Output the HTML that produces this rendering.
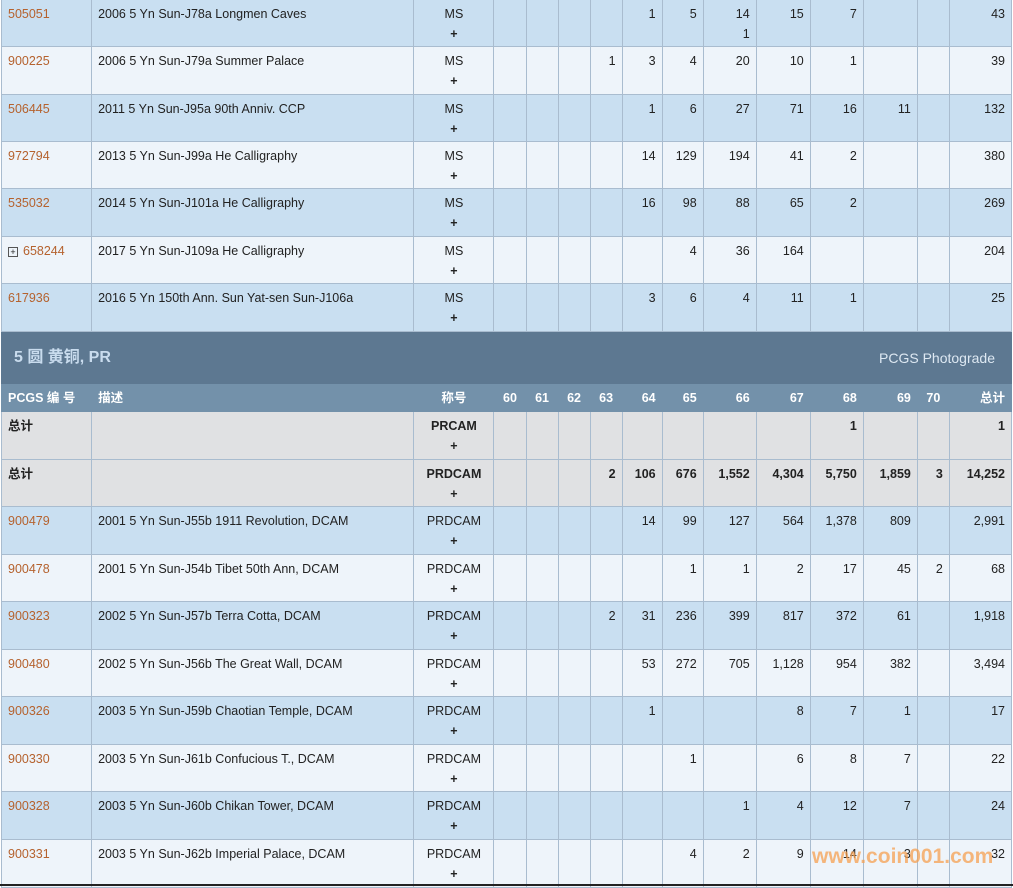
<!DOCTYPE html>
<html><head><meta charset="utf-8"><style>
body{margin:0;width:1013px;height:886px;overflow:hidden;background:#fff;font-family:"Liberation Sans","Noto Sans CJK SC",sans-serif;font-size:12.5px;color:#222}
table{position:absolute;left:1px;top:-1px;border-collapse:collapse;table-layout:fixed;width:1011px}
td{border:1px solid #a9bccf;vertical-align:top;padding:4px 6px 0 6px;line-height:20px;white-space:nowrap;overflow:hidden}
tr.b td{background:#c9dff1}
tr.w td{background:#eef4fa}
tr.g td{background:#e0e1e3;font-weight:bold}
td.n{text-align:right}
td.c{text-align:center}
a{color:#b5622e;text-decoration:none}
tr.band td{background:#5d7891;border-color:#5d7891;color:#c9dcee;font-size:16px;font-weight:bold;vertical-align:middle;padding:0 12px}
tr.band span{float:right;font-weight:normal;font-size:14px;color:#dde8f2;padding-right:4px}
tr.hd td{background:#7391aa;color:#fff;font-weight:bold;vertical-align:middle;padding:0 6px;border-color:#7391aa}
.pl{display:inline-block;width:8px;height:8px;border:1px solid #555;font-size:9px;line-height:8px;text-align:center;margin-right:5px;vertical-align:0}
</style></head><body>
<table>
<colgroup><col style="width:90px"><col style="width:322px"><col style="width:80px"><col style="width:32px"><col style="width:32px"><col style="width:32px"><col style="width:32px"><col style="width:40px"><col style="width:41px"><col style="width:53px"><col style="width:54px"><col style="width:53px"><col style="width:54px"><col style="width:32px"><col style="width:62px"></colgroup>
<tr class="b" style="height:47px"><td><a>505051</a></td><td>2006 5 Yn Sun-J78a Longmen Caves</td><td class="c">MS<br><b>+</b></td><td></td><td></td><td></td><td></td><td class="n">1</td><td class="n">5</td><td class="n">14<br>1</td><td class="n">15</td><td class="n">7</td><td></td><td></td><td class="n">43</td></tr>
<tr class="w" style="height:48px"><td><a>900225</a></td><td>2006 5 Yn Sun-J79a Summer Palace</td><td class="c">MS<br><b>+</b></td><td></td><td></td><td></td><td class="n">1</td><td class="n">3</td><td class="n">4</td><td class="n">20</td><td class="n">10</td><td class="n">1</td><td></td><td></td><td class="n">39</td></tr>
<tr class="b" style="height:47px"><td><a>506445</a></td><td>2011 5 Yn Sun-J95a 90th Anniv. CCP</td><td class="c">MS<br><b>+</b></td><td></td><td></td><td></td><td></td><td class="n">1</td><td class="n">6</td><td class="n">27</td><td class="n">71</td><td class="n">16</td><td class="n">11</td><td></td><td class="n">132</td></tr>
<tr class="w" style="height:47px"><td><a>972794</a></td><td>2013 5 Yn Sun-J99a He Calligraphy</td><td class="c">MS<br><b>+</b></td><td></td><td></td><td></td><td></td><td class="n">14</td><td class="n">129</td><td class="n">194</td><td class="n">41</td><td class="n">2</td><td></td><td></td><td class="n">380</td></tr>
<tr class="b" style="height:48px"><td><a>535032</a></td><td>2014 5 Yn Sun-J101a He Calligraphy</td><td class="c">MS<br><b>+</b></td><td></td><td></td><td></td><td></td><td class="n">16</td><td class="n">98</td><td class="n">88</td><td class="n">65</td><td class="n">2</td><td></td><td></td><td class="n">269</td></tr>
<tr class="w" style="height:47px"><td><span class="pl">+</span><a>658244</a></td><td>2017 5 Yn Sun-J109a He Calligraphy</td><td class="c">MS<br><b>+</b></td><td></td><td></td><td></td><td></td><td></td><td class="n">4</td><td class="n">36</td><td class="n">164</td><td></td><td></td><td></td><td class="n">204</td></tr>
<tr class="b" style="height:48px"><td><a>617936</a></td><td>2016 5 Yn 150th Ann. Sun Yat-sen Sun-J106a</td><td class="c">MS<br><b>+</b></td><td></td><td></td><td></td><td></td><td class="n">3</td><td class="n">6</td><td class="n">4</td><td class="n">11</td><td class="n">1</td><td></td><td></td><td class="n">25</td></tr>
<tr class="band" style="height:52px"><td colspan="15">5 圆 黄铜, PR<span>PCGS Photograde</span></td></tr>
<tr class="hd" style="height:28px"><td>PCGS 编 号</td><td>描述</td><td class="c">称号</td><td class="c">60</td><td class="c">61</td><td class="c">62</td><td class="c">63</td><td class="n">64</td><td class="n">65</td><td class="n">66</td><td class="n">67</td><td class="n">68</td><td class="n">69</td><td class="c">70</td><td class="n">总计</td></tr>
<tr class="g" style="height:48px"><td>总计</td><td></td><td class="c">PRCAM<br>+</td><td></td><td></td><td></td><td></td><td></td><td></td><td></td><td></td><td class="n">1</td><td></td><td></td><td class="n">1</td></tr>
<tr class="g" style="height:47px"><td>总计</td><td></td><td class="c">PRDCAM<br>+</td><td></td><td></td><td></td><td class="n">2</td><td class="n">106</td><td class="n">676</td><td class="n">1,552</td><td class="n">4,304</td><td class="n">5,750</td><td class="n">1,859</td><td class="n">3</td><td class="n">14,252</td></tr>
<tr class="b" style="height:48px"><td><a>900479</a></td><td>2001 5 Yn Sun-J55b 1911 Revolution, DCAM</td><td class="c">PRDCAM<br><b>+</b></td><td></td><td></td><td></td><td></td><td class="n">14</td><td class="n">99</td><td class="n">127</td><td class="n">564</td><td class="n">1,378</td><td class="n">809</td><td></td><td class="n">2,991</td></tr>
<tr class="w" style="height:47px"><td><a>900478</a></td><td>2001 5 Yn Sun-J54b Tibet 50th Ann, DCAM</td><td class="c">PRDCAM<br><b>+</b></td><td></td><td></td><td></td><td></td><td></td><td class="n">1</td><td class="n">1</td><td class="n">2</td><td class="n">17</td><td class="n">45</td><td class="n">2</td><td class="n">68</td></tr>
<tr class="b" style="height:48px"><td><a>900323</a></td><td>2002 5 Yn Sun-J57b Terra Cotta, DCAM</td><td class="c">PRDCAM<br><b>+</b></td><td></td><td></td><td></td><td class="n">2</td><td class="n">31</td><td class="n">236</td><td class="n">399</td><td class="n">817</td><td class="n">372</td><td class="n">61</td><td></td><td class="n">1,918</td></tr>
<tr class="w" style="height:47px"><td><a>900480</a></td><td>2002 5 Yn Sun-J56b The Great Wall, DCAM</td><td class="c">PRDCAM<br><b>+</b></td><td></td><td></td><td></td><td></td><td class="n">53</td><td class="n">272</td><td class="n">705</td><td class="n">1,128</td><td class="n">954</td><td class="n">382</td><td></td><td class="n">3,494</td></tr>
<tr class="b" style="height:48px"><td><a>900326</a></td><td>2003 5 Yn Sun-J59b Chaotian Temple, DCAM</td><td class="c">PRDCAM<br><b>+</b></td><td></td><td></td><td></td><td></td><td class="n">1</td><td></td><td></td><td class="n">8</td><td class="n">7</td><td class="n">1</td><td></td><td class="n">17</td></tr>
<tr class="w" style="height:47px"><td><a>900330</a></td><td>2003 5 Yn Sun-J61b Confucious T., DCAM</td><td class="c">PRDCAM<br><b>+</b></td><td></td><td></td><td></td><td></td><td></td><td class="n">1</td><td></td><td class="n">6</td><td class="n">8</td><td class="n">7</td><td></td><td class="n">22</td></tr>
<tr class="b" style="height:48px"><td><a>900328</a></td><td>2003 5 Yn Sun-J60b Chikan Tower, DCAM</td><td class="c">PRDCAM<br><b>+</b></td><td></td><td></td><td></td><td></td><td></td><td></td><td class="n">1</td><td class="n">4</td><td class="n">12</td><td class="n">7</td><td></td><td class="n">24</td></tr>
<tr class="w" style="height:48px"><td><a>900331</a></td><td>2003 5 Yn Sun-J62b Imperial Palace, DCAM</td><td class="c">PRDCAM<br><b>+</b></td><td></td><td></td><td></td><td></td><td></td><td class="n">4</td><td class="n">2</td><td class="n">9</td><td class="n">14</td><td class="n">3</td><td></td><td class="n">32</td></tr>
</table>
<div style="position:absolute;left:812px;top:845px;font-size:21px;font-weight:bold;color:rgba(245,160,80,0.75);font-family:'Liberation Sans',sans-serif">www.coin001.com</div>
<div style="position:absolute;left:0;top:884px;width:1013px;height:2px;background:#222"></div>
</body></html>
